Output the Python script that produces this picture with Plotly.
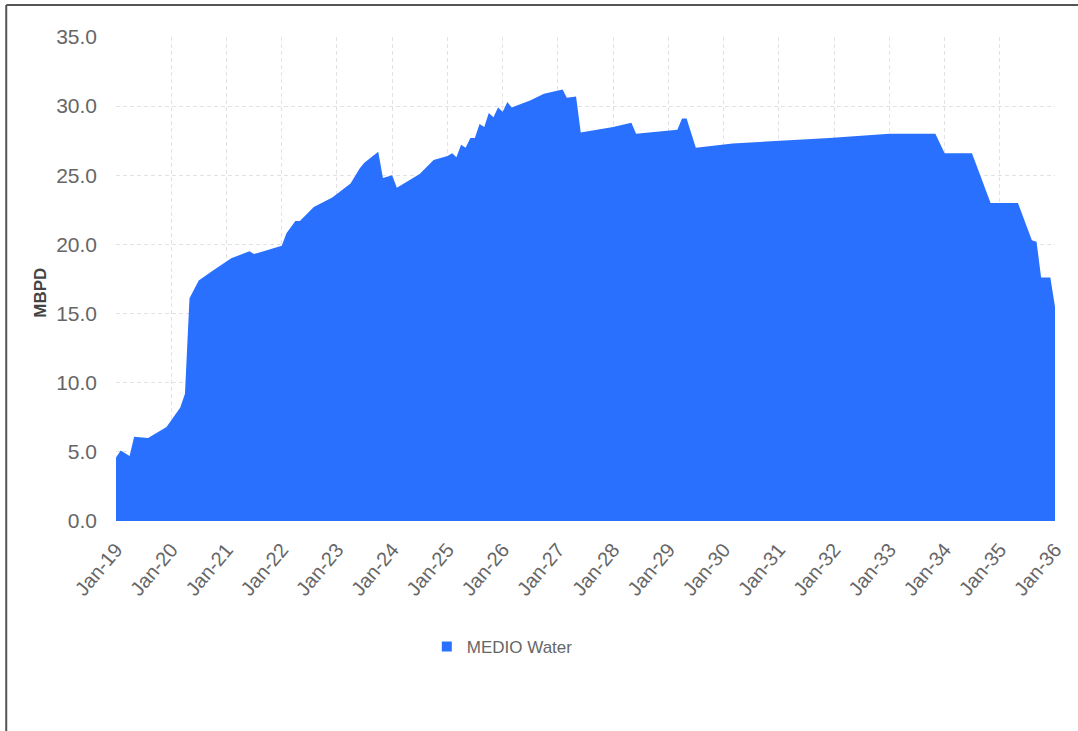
import plotly.graph_objects as go

months = ["2019-01-01", "2019-02-01", "2019-04-01", "2019-05-01", "2019-08-01", "2019-12-01",
          "2020-03-01", "2020-04-01", "2020-05-01", "2020-07-01", "2020-10-01",
          "2021-02-01", "2021-06-01", "2021-07-01", "2021-08-01",
          "2022-01-01", "2022-02-01", "2022-04-01", "2022-05-01", "2022-08-01", "2022-12-01",
          "2023-04-01", "2023-06-01", "2023-07-01", "2023-10-01", "2023-11-01",
          "2024-01-01", "2024-02-01", "2024-07-01", "2024-10-01",
          "2025-01-01", "2025-02-01", "2025-03-01", "2025-04-01", "2025-05-01", "2025-06-01",
          "2025-07-01", "2025-08-01", "2025-09-01", "2025-10-01", "2025-11-01", "2025-12-01",
          "2026-01-01", "2026-02-01", "2026-03-01", "2026-07-01", "2026-10-01",
          "2027-02-01", "2027-03-01", "2027-05-01", "2027-06-01",
          "2028-01-01", "2028-05-01", "2028-06-01",
          "2029-03-01", "2029-04-01", "2029-05-01", "2029-07-01",
          "2030-03-01", "2031-02-01", "2031-12-01", "2033-01-01", "2033-11-01",
          "2034-01-01", "2034-07-01", "2034-11-01",
          "2035-05-01", "2035-08-01", "2035-09-01", "2035-10-01", "2035-12-01", "2036-01-01"]

medio_water = [4.6, 5.1, 4.7, 6.1, 6.0, 6.8,
               8.2, 9.2, 16.1, 17.4, 18.1,
               19.0, 19.5, 19.3, 19.4,
               19.9, 20.8, 21.7, 21.7, 22.7, 23.4,
               24.4, 25.5, 25.9, 26.7, 24.8,
               25.0, 24.1, 25.1, 26.1,
               26.4, 26.6, 26.3, 27.2, 27.0, 27.7,
               27.7, 28.7, 28.5, 29.5, 29.2, 29.9,
               29.6, 30.3, 29.9, 30.4, 30.9,
               31.2, 30.6, 30.7, 28.1,
               28.5, 28.8, 28.0,
               28.3, 29.1, 29.1, 27.0,
               27.3, 27.5, 27.7, 28.0, 28.0,
               26.6, 26.6, 23.0,
               23.0, 20.3, 20.2, 17.6, 17.6, 15.5]

series_name = "MEDIO Water"
y_title = "MBPD"
blue = "#2970ff"
grey_text = "#666666"

fig = go.Figure()
fig.add_trace(go.Scatter(x=months, y=medio_water, mode="lines", fill="tozeroy",
                         line=dict(color=blue, width=0), fillcolor=blue,
                         showlegend=False, name=series_name))
fig.add_trace(go.Scatter(x=[None], y=[None], mode="markers", name=series_name,
                         marker=dict(symbol="square", size=10, color=blue)))

fig.update_layout(
    width=1078, height=731,
    margin=dict(l=116, r=21, t=37, b=210),
    paper_bgcolor="white", plot_bgcolor="white",
    font=dict(family="Liberation Sans, Arial, sans-serif", color=grey_text),
    showlegend=True,
    legend=dict(orientation="h", x=0.331, xanchor="left", y=-0.26, yanchor="middle",
                font=dict(size=17, color=grey_text), itemwidth=30),
    xaxis=dict(type="date", range=["2019-01-01", "2036-01-01"], tick0="2019-01-01", dtick="M12",
               tickformat="%b-%y", tickangle=-50, tickfont=dict(size=20, color=grey_text),
               showgrid=True, gridcolor="#e2e2e2", griddash="4px,3px", gridwidth=1,
               zeroline=False, showline=False, ticks="", ticklabelstandoff=12),
    yaxis=dict(range=[0, 35], dtick=5, tickformat=".1f", tickfont=dict(size=21, color=grey_text),
               showgrid=True, gridcolor="#e2e2e2", griddash="4px,3px", gridwidth=1,
               zeroline=False, showline=False, ticks="", ticklabelstandoff=18),
    annotations=[
        dict(text="<b>" + y_title + "</b>", xref="paper", yref="paper", x=-0.0808, y=0.472,
             xanchor="center", yanchor="middle", textangle=-90, showarrow=False,
             font=dict(size=17, color="#444444")),
    ],
    shapes=[
        dict(type="line", xref="paper", yref="paper", x0=-0.1169, x1=-0.1169, y0=-0.44, y1=1.0661,
             line=dict(color="#555555", width=2)),
        dict(type="line", xref="paper", yref="paper", x0=-0.1169, x1=1.03, y0=1.0661, y1=1.0661,
             line=dict(color="#555555", width=2)),
    ],
)

fig.write_html("out.html", config={"displayModeBar": False},
               post_script="document.body.style.margin='0';")
